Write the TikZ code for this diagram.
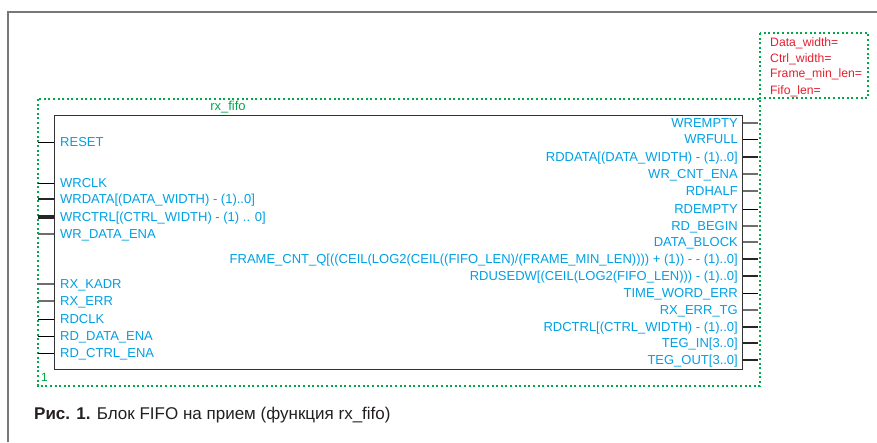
\documentclass[tikz,border=0pt]{standalone}
\usepackage{fontspec}
\setmainfont{Liberation Sans}
\definecolor{pincol}{RGB}{0,160,228}
\definecolor{parcol}{RGB}{232,30,45}
\definecolor{grn}{RGB}{0,168,72}
\definecolor{framec}{RGB}{120,120,120}
\definecolor{capc}{RGB}{35,31,32}
\definecolor{wgray}{RGB}{110,110,110}
\tikzset{
  pinlabel/.style={text=pincol, font=\fontsize{13}{15}\selectfont, inner sep=0pt},
  parlabel/.style={text=parcol, font=\fontsize{12.2}{14}\selectfont, inner sep=0pt, anchor=base west},
  dotbox/.style={draw=grn, line width=2pt, dash pattern=on 2pt off 2.6pt},
  wthin/.style={draw=black, line width=1pt},
  wgr/.style={draw=wgray, line width=1.4pt},
  wthick/.style={draw=black!85, line width=2pt},
  wbold/.style={draw=black!85, line width=3.6pt},
}
\begin{document}
\begin{tikzpicture}[x=1pt,y=-1pt]
\useasboundingbox (0,0) rectangle (877,442);
% outer frame
\draw[framec, line width=1.5pt] (8,442) -- (8,12) -- (877,12);
% dotted boxes
\draw[dotbox] (38,99) rectangle (760,386);
\draw[dotbox] (760,33) rectangle (868,98);
% block
\node[draw=black!80, line width=1.2pt, minimum width=688pt, minimum height=254pt, inner sep=0pt, anchor=north west] (block) at (54,115) {};
\node[text=grn, font=\fontsize{13}{15}\selectfont, inner sep=0pt, anchor=base] (title) at (228,110.5) {rx\_fifo};
\node[text=grn, font=\fontsize{12}{14}\selectfont, inner sep=0pt, anchor=base west] (one) at (41,381.5) {1};
% parameters
\node[parlabel] (p1) at (770,46.5) {Data\_width=};
\node[parlabel] (p2) at (770,62) {Ctrl\_width=};
\node[parlabel] (p3) at (770,77.5) {Frame\_min\_len=};
\node[parlabel] (p4) at (770,94) {Fifo\_len=};
% left pins
\foreach \y/\n/\t/\s in {
  142/l1/RESET/wthin,
  183/l2/WRCLK/wthin,
  199/l3/{WRDATA[(DATA\_WIDTH) - (1)..0]}/wthick,
  217/l4/{WRCTRL[(CTRL\_WIDTH) - (1) .. 0]}/wbold,
  234/l5/WR\_DATA\_ENA/wgr,
  284/l6/RX\_KADR/wgr,
  301/l7/RX\_ERR/wgr,
  319/l8/RDCLK/wthin,
  336/l9/RD\_DATA\_ENA/wthin,
  353/l10/RD\_CTRL\_ENA/wthin}{
  \coordinate (\n) at (38,\y);
  \draw[\s] (\n) -- (\n -| block.west);
  \node[pinlabel, anchor=base west] (\n t) at (60,\y+4.7) {\t};
}
% right pins
\foreach \y/\n/\t/\s in {
  123/r1/WREMPTY/wgr,
  139/r2/WRFULL/wthin,
  157/r3/{RDDATA[(DATA\_WIDTH) - (1)..0]}/wthick,
  174/r4/WR\_CNT\_ENA/wgr,
  191/r5/RDHALF/wgr,
  209/r6/RDEMPTY/wthin,
  226/r7/RD\_BEGIN/wgr,
  242/r8/DATA\_BLOCK/wgr,
  259/r9/{FRAME\_CNT\_Q[((CEIL(LOG2(CEIL((FIFO\_LEN)/(FRAME\_MIN\_LEN)))) + (1)) - - (1)..0]}/wthick,
  276/r10/{RDUSEDW[(CEIL(LOG2(FIFO\_LEN))) - (1)..0]}/wthick,
  293/r11/TIME\_WORD\_ERR/wthin,
  310/r12/RX\_ERR\_TG/wgr,
  327/r13/{RDCTRL[(CTRL\_WIDTH) - (1)..0]}/wthick,
  343/r14/{TEG\_IN[3..0]}/wthick,
  360/r15/{TEG\_OUT[3..0]}/wthick}{
  \coordinate (\n) at (758,\y);
  \draw[\s] (\n -| block.east) -- (\n);
  \node[pinlabel, anchor=base east] (\n t) at (738,\y+4.7) {\t};
}
% caption
\node[text=capc, font=\fontsize{17}{20}\selectfont, inner sep=0pt, anchor=base west] (cap) at (34,419) {\textbf{Рис. 1.} Блок FIFO на прием (функция rx\_fifo)};
\end{tikzpicture}
\end{document}
